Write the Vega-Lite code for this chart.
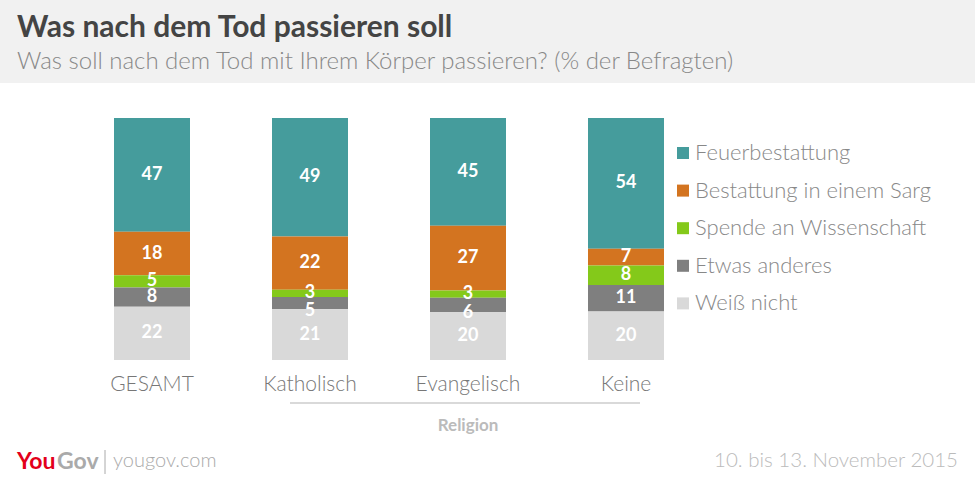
{
  "$schema": "https://vega.github.io/schema/vega-lite/v6.json",
  "autosize": {"type": "none"},
  "width": 975,
  "height": 242,
  "padding": {"top": 118, "left": 0, "right": 0, "bottom": 124},
  "background": "white",
  "title": {
    "text": "Was nach dem Tod passieren soll",
    "subtitle": "Was soll nach dem Tod mit Ihrem Körper passieren? (% der Befragten)",
    "anchor": "start",
    "dx": 17,
    "offset": -74,
    "font": "Lato",
    "fontSize": 30,
    "fontWeight": "bold",
    "color": "#444444",
    "subtitleFont": "Lato",
    "subtitleFontSize": 24,
    "subtitleFontWeight": 300,
    "subtitleColor": "#888888",
    "subtitlePadding": 7,
    "zindex": 2
  },
  "data": {
    "values": [
      {"Gruppe": "GESAMT", "Kategorie": "Feuerbestattung", "Wert": 47},
      {"Gruppe": "GESAMT", "Kategorie": "Bestattung in einem Sarg", "Wert": 18},
      {"Gruppe": "GESAMT", "Kategorie": "Spende an Wissenschaft", "Wert": 5},
      {"Gruppe": "GESAMT", "Kategorie": "Etwas anderes", "Wert": 8},
      {"Gruppe": "GESAMT", "Kategorie": "Weiß nicht", "Wert": 22},
      {"Gruppe": "Katholisch", "Kategorie": "Feuerbestattung", "Wert": 49},
      {"Gruppe": "Katholisch", "Kategorie": "Bestattung in einem Sarg", "Wert": 22},
      {"Gruppe": "Katholisch", "Kategorie": "Spende an Wissenschaft", "Wert": 3},
      {"Gruppe": "Katholisch", "Kategorie": "Etwas anderes", "Wert": 5},
      {"Gruppe": "Katholisch", "Kategorie": "Weiß nicht", "Wert": 21},
      {"Gruppe": "Evangelisch", "Kategorie": "Feuerbestattung", "Wert": 45},
      {"Gruppe": "Evangelisch", "Kategorie": "Bestattung in einem Sarg", "Wert": 27},
      {"Gruppe": "Evangelisch", "Kategorie": "Spende an Wissenschaft", "Wert": 3},
      {"Gruppe": "Evangelisch", "Kategorie": "Etwas anderes", "Wert": 6},
      {"Gruppe": "Evangelisch", "Kategorie": "Weiß nicht", "Wert": 20},
      {"Gruppe": "Keine", "Kategorie": "Feuerbestattung", "Wert": 54},
      {"Gruppe": "Keine", "Kategorie": "Bestattung in einem Sarg", "Wert": 7},
      {"Gruppe": "Keine", "Kategorie": "Spende an Wissenschaft", "Wert": 8},
      {"Gruppe": "Keine", "Kategorie": "Etwas anderes", "Wert": 11},
      {"Gruppe": "Keine", "Kategorie": "Weiß nicht", "Wert": 20}
    ]
  },
  "layer": [
    {
      "data": {"values": [{}]},
      "mark": {"type": "rect", "color": "#f1f1f1"},
      "encoding": {
        "x": {"value": 0},
        "x2": {"value": 975},
        "y": {"value": -118},
        "y2": {"value": -35}
      }
    },
    {
      "transform": [
        {"calculate": "indexof(['Weiß nicht', 'Etwas anderes', 'Spende an Wissenschaft', 'Bestattung in einem Sarg', 'Feuerbestattung'], datum.Kategorie)", "as": "idx"},
        {"stack": "Wert", "groupby": ["Gruppe"], "sort": [{"field": "idx", "order": "ascending"}], "offset": "normalize", "as": ["y0", "y1"]}
      ],
      "mark": {"type": "bar"},
      "encoding": {
        "x": {
          "field": "Gruppe",
          "type": "nominal",
          "sort": ["GESAMT", "Katholisch", "Evangelisch", "Keine"],
          "scale": {"domain": ["GESAMT", "Katholisch", "Evangelisch", "Keine"], "range": [114, 664], "paddingInner": 0.519, "paddingOuter": 0},
          "axis": {
            "title": null,
            "domain": false,
            "ticks": false,
            "labelAngle": 0,
            "labelPadding": 13,
            "labelFont": "Lato",
            "labelFontSize": 21,
            "labelFontWeight": 300,
            "labelColor": "#777777"
          }
        },
        "y": {"field": "y1", "type": "quantitative", "scale": {"domain": [0, 1], "nice": false}, "axis": null},
        "y2": {"field": "y0"},
        "color": {
          "field": "Kategorie",
          "type": "nominal",
          "scale": {
            "domain": ["Feuerbestattung", "Bestattung in einem Sarg", "Spende an Wissenschaft", "Etwas anderes", "Weiß nicht"],
            "range": ["#459c9c", "#d37420", "#84c91a", "#7f7f7f", "#d9d9d9"]
          },
          "legend": {
            "title": null,
            "orient": "none",
            "legendX": 672,
            "legendY": 24,
            "padding": 0,
            "symbolType": "square",
            "symbolSize": 144,
            "symbolStrokeWidth": 0,
            "symbolOpacity": 1,
            "labelFont": "Lato",
            "labelFontSize": 22,
            "labelFontWeight": 300,
            "labelColor": "#888888",
            "labelOffset": 1,
            "labelLimit": 400,
            "rowPadding": 15.6
          }
        }
      }
    },
    {
      "transform": [
        {"calculate": "indexof(['Weiß nicht', 'Etwas anderes', 'Spende an Wissenschaft', 'Bestattung in einem Sarg', 'Feuerbestattung'], datum.Kategorie)", "as": "idx"},
        {"stack": "Wert", "groupby": ["Gruppe"], "sort": [{"field": "idx", "order": "ascending"}], "offset": "normalize", "as": ["y0", "y1"]},
        {"calculate": "(datum.y0 + datum.y1) / 2 - (datum.Kategorie === 'Etwas anderes' && datum.Wert <= 6 ? 0.034 : 0)", "as": "mid"}
      ],
      "mark": {"type": "text", "color": "white", "font": "Lato", "fontSize": 18, "fontWeight": "bold", "baseline": "middle"},
      "encoding": {
        "x": {"field": "Gruppe", "type": "nominal"},
        "y": {"field": "mid", "type": "quantitative"},
        "text": {"field": "Wert", "type": "quantitative"}
      }
    },
    {
      "data": {"values": [{}]},
      "mark": {"type": "rule", "color": "#d9d9d9", "strokeWidth": 2, "xOffset": -20, "x2Offset": 14},
      "encoding": {
        "x": {"datum": "Katholisch"},
        "x2": {"datum": "Keine"},
        "y": {"value": 285}
      }
    },
    {
      "data": {"values": [{}]},
      "mark": {"type": "text", "text": "Religion", "font": "Lato", "fontSize": 17, "fontWeight": "bold", "color": "#bbbbbb", "baseline": "middle"},
      "encoding": {
        "x": {"datum": "Evangelisch"},
        "y": {"value": 308}
      }
    },
    {
      "data": {"values": [{}]},
      "mark": {"type": "text", "text": "You", "font": "Lato", "fontSize": 23, "fontWeight": "bold", "color": "#e3001b", "align": "left", "baseline": "middle"},
      "encoding": {"x": {"value": 17}, "y": {"value": 344}}
    },
    {
      "data": {"values": [{}]},
      "mark": {"type": "text", "text": "Gov", "font": "Lato", "fontSize": 23, "fontWeight": "bold", "color": "#aaaaaa", "align": "left", "baseline": "middle"},
      "encoding": {"x": {"value": 57}, "y": {"value": 344}}
    },
    {
      "data": {"values": [{}]},
      "mark": {"type": "rule", "color": "#aaaaaa", "strokeWidth": 1},
      "encoding": {"x": {"value": 105}, "y": {"value": 332}, "y2": {"value": 356}}
    },
    {
      "data": {"values": [{}]},
      "mark": {"type": "text", "text": "yougov.com", "font": "Lato", "fontSize": 20, "fontWeight": 300, "color": "#aaaaaa", "align": "left", "baseline": "middle"},
      "encoding": {"x": {"value": 113}, "y": {"value": 343}}
    },
    {
      "data": {"values": [{}]},
      "mark": {"type": "text", "text": "10. bis 13. November 2015", "font": "Lato", "fontSize": 20.5, "fontWeight": 300, "color": "#bbbbbb", "align": "right", "baseline": "middle"},
      "encoding": {"x": {"value": 958}, "y": {"value": 343}}
    }
  ],
  "config": {
    "view": {"stroke": null}
  }
}
